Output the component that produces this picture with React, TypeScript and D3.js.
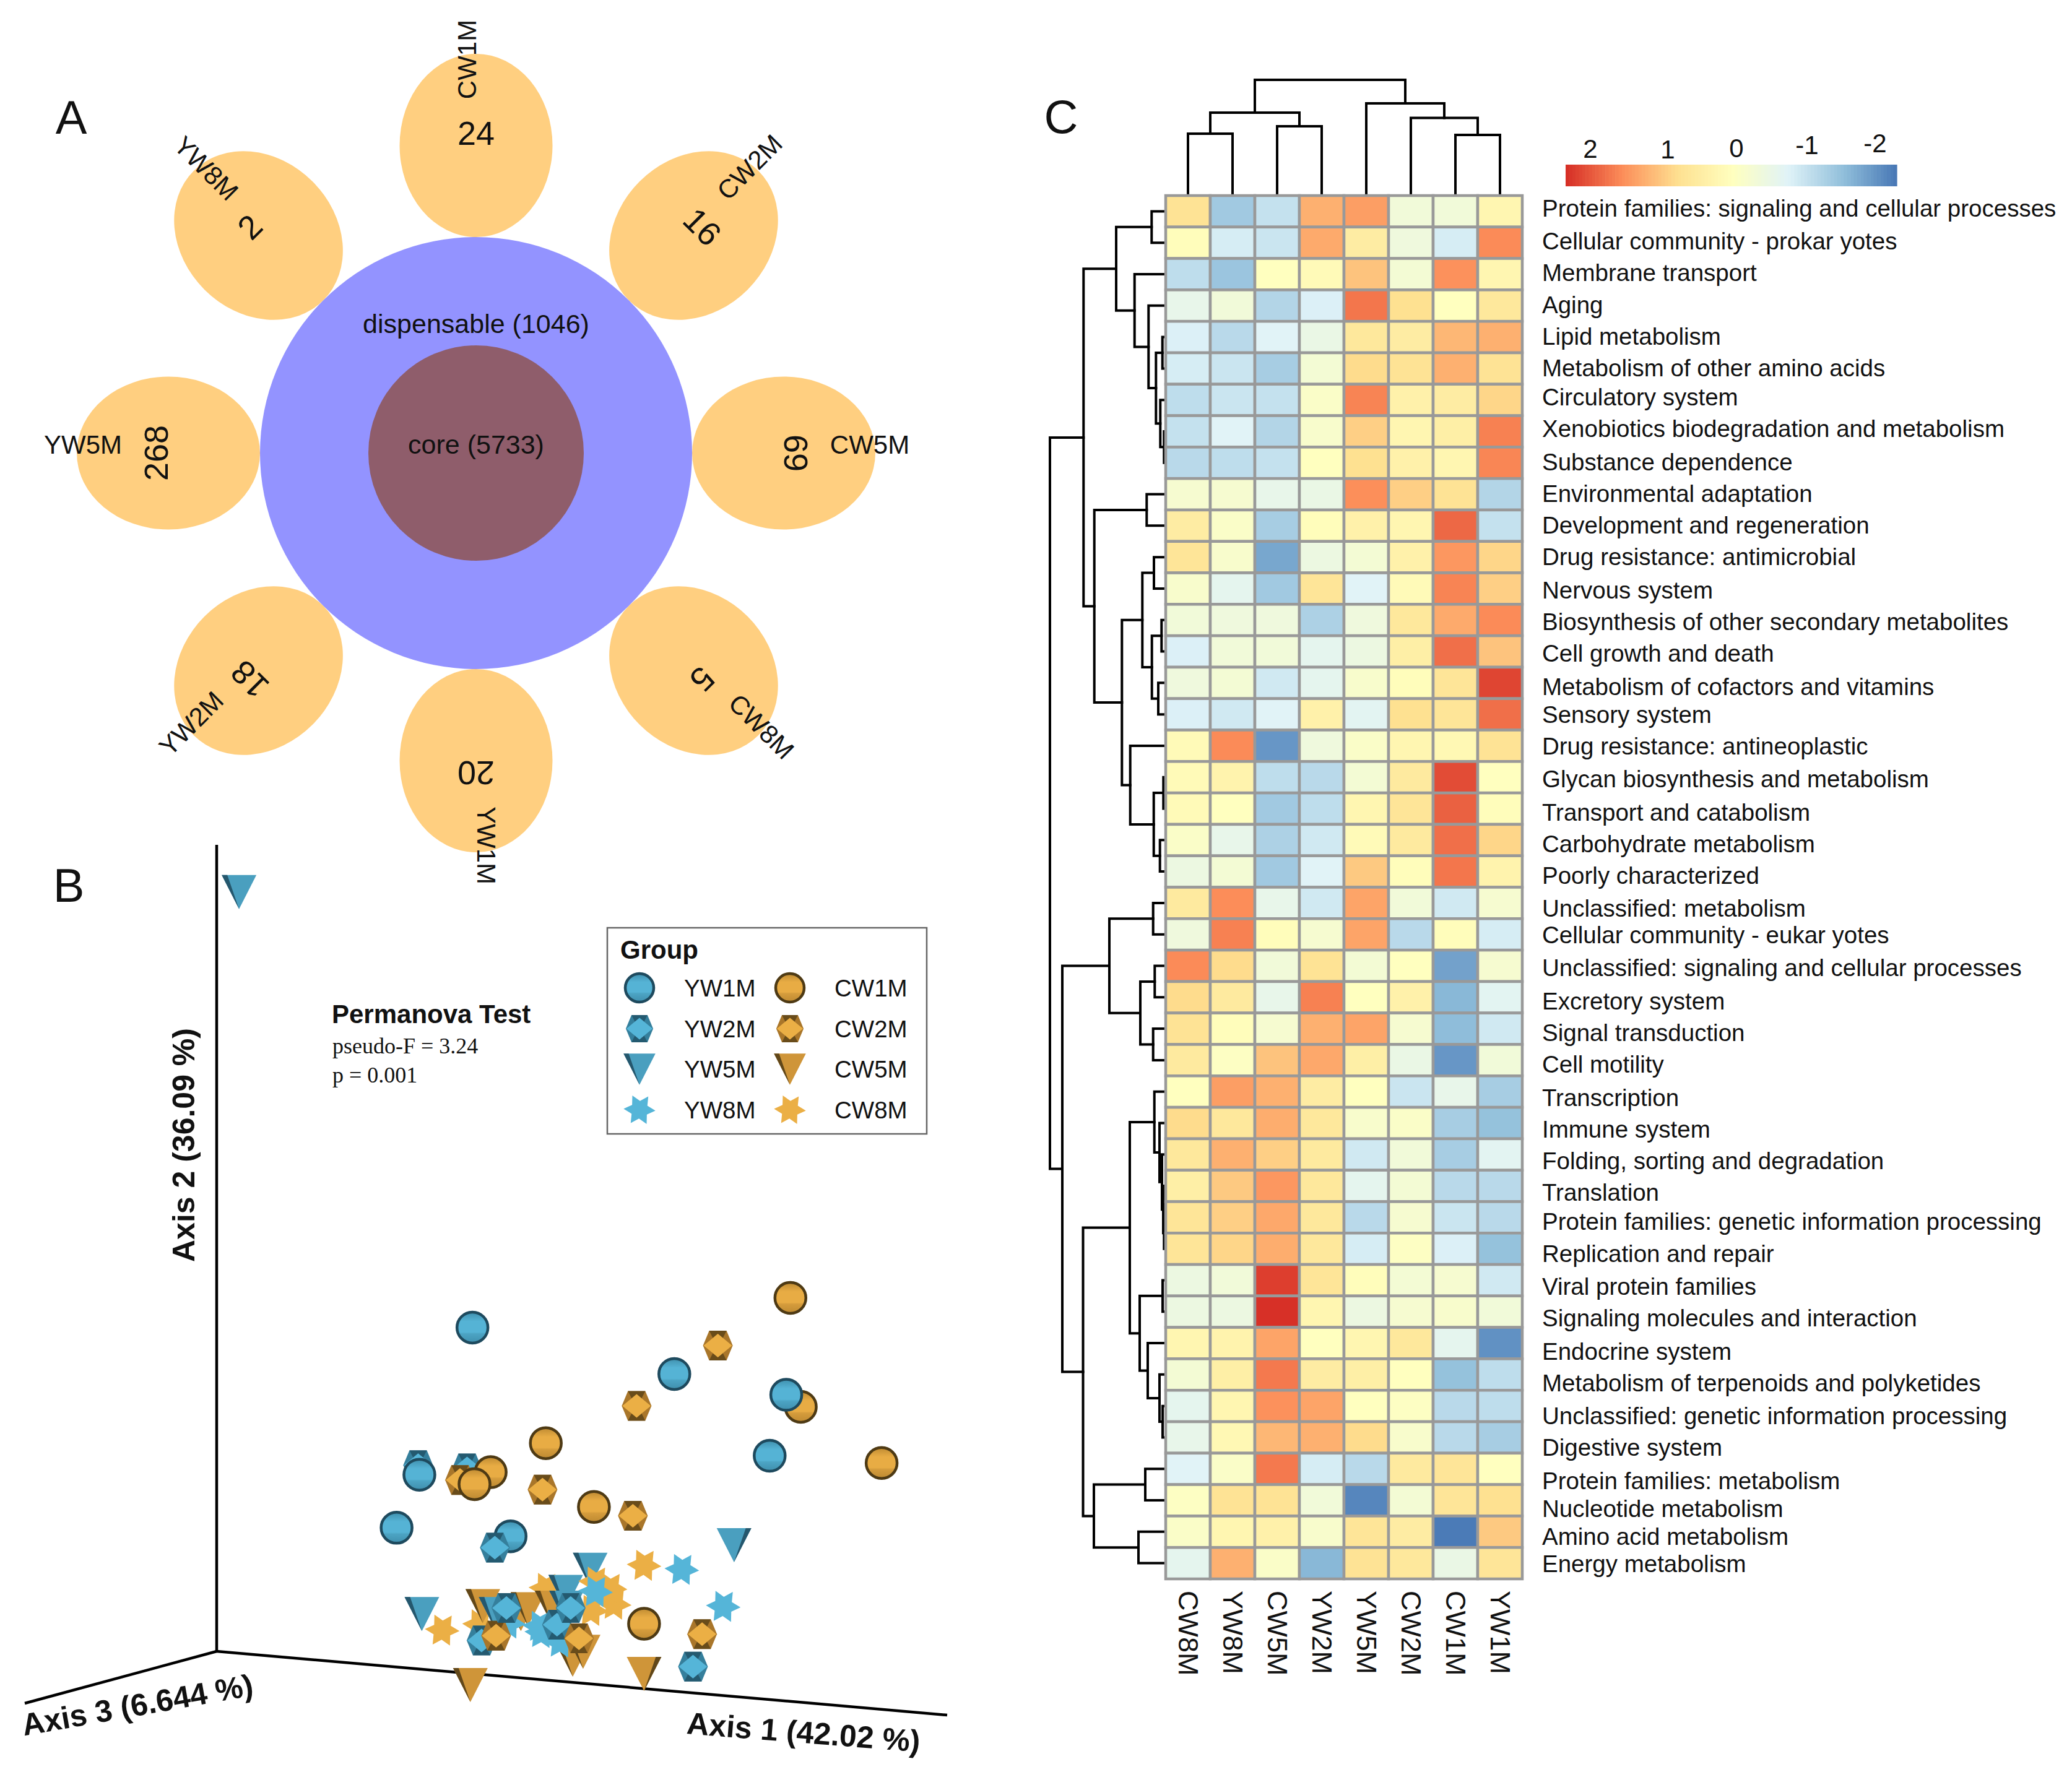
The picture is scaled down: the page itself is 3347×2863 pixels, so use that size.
import React from "react";
import * as d3 from "d3";

const FONT = "'Liberation Sans', Arial, sans-serif";

// ---------- Panel A data ----------
const petalNames = ["CW1M", "CW2M", "CW5M", "CW8M", "YW1M", "YW2M", "YW5M", "YW8M"];
const petalCounts = [24, 16, 69, 5, 20, 18, 268, 2];
const dispensableCount = 1046;
const coreCount = 5733;

// ---------- Panel B data (projected ordination coordinates) ----------
type P = [number, number];
const scatterCW8Mback: P[] = [[410, 1225], [570, 1110]];
const scatterCW5M: P[] = [[418, 1165], [510, 1190], [527, 1175], [585, 1170], [388, 1415], [635, 1335], [660, 1310], [807, 1380]];
const scatterYW8Mback: P[] = [[480, 1220], [605, 1280]];
const scatterYW5M: P[] = [[-170, -1096], [271, 1190], [1024, 972], [677, 1050], [618, 1120], [450, 1190], [620, 1170]];
const scatterCW8M: P[] = [[807, 1037], [320, 1242], [735, 1160], [680, 1180], [690, 1090], [725, 1110]];
const scatterYW8M: P[] = [[898, 1050], [998, 1167], [690, 1120], [555, 1230], [560, 1250]];
const scatterYW2Mback: P[] = [[262, 720], [380, 730], [415, 1275], [597, 1225]];
const scatterCW1M: P[] = [[1160, 190], [1185, 535], [1380, 713], [570, 650], [437, 742], [686, 852], [807, 1222]];
const scatterCW2M: P[] = [[985, 341], [789, 532], [363, 767], [562, 797], [780, 880], [947, 1255], [450, 1260], [650, 1268]];
const scatterCW1Mtop: P[] = [[398, 780]];
const scatterYW1M: P[] = [[393, 284], [880, 431], [1150, 497], [1110, 690], [265, 750], [210, 918], [485, 945]];
const scatterYW2M: P[] = [[447, 981], [475, 1172], [630, 1172], [925, 1358]];

const legendCol1 = ["YW1M", "YW2M", "YW5M", "YW8M"];
const legendCol2 = ["CW1M", "CW2M", "CW5M", "CW8M"];

// ---------- Panel C data ----------
const heatCols = ["CW8M", "YW8M", "CW5M", "YW2M", "YW5M", "CW2M", "CW1M", "YW1M"];
const heatRows = [
  "Protein families: signaling and cellular processes",
  "Cellular community - prokar yotes",
  "Membrane transport",
  "Aging",
  "Lipid metabolism",
  "Metabolism of other amino acids",
  "Circulatory system",
  "Xenobiotics biodegradation and metabolism",
  "Substance dependence",
  "Environmental adaptation",
  "Development and regeneration",
  "Drug resistance: antimicrobial",
  "Nervous system",
  "Biosynthesis of other secondary metabolites",
  "Cell growth and death",
  "Metabolism of cofactors and vitamins",
  "Sensory system",
  "Drug resistance: antineoplastic",
  "Glycan biosynthesis and metabolism",
  "Transport and catabolism",
  "Carbohydrate metabolism",
  "Poorly characterized",
  "Unclassified: metabolism",
  "Cellular community - eukar yotes",
  "Unclassified: signaling and cellular processes",
  "Excretory system",
  "Signal transduction",
  "Cell motility",
  "Transcription",
  "Immune system",
  "Folding, sorting and degradation",
  "Translation",
  "Protein families: genetic information processing",
  "Replication and repair",
  "Viral protein families",
  "Signaling molecules and interaction",
  "Endocrine system",
  "Metabolism of terpenoids and polyketides",
  "Unclassified: genetic information processing",
  "Digestive system",
  "Protein families: metabolism",
  "Nucleotide metabolism",
  "Amino acid metabolism",
  "Energy metabolism",
];
const heatValues: number[][] = [
  [0.6, -1.2, -0.9, 1.05, 1.2, -0.3, -0.3, 0.2],
  [0.05, -0.75, -0.85, 1.1, 0.4, -0.35, -0.75, 1.35],
  [-0.95, -1.25, 0.0, 0.1, 0.9, -0.25, 1.3, 0.2],
  [-0.5, -0.3, -1.05, -0.7, 1.5, 0.65, 0.0, 0.5],
  [-0.7, -1.0, -0.65, -0.45, 0.5, 0.4, 1.0, 1.05],
  [-0.75, -0.85, -1.15, -0.25, 0.7, 0.6, 1.05, 0.6],
  [-0.95, -0.85, -0.9, -0.1, 1.4, 0.3, 0.4, 0.75],
  [-0.9, -0.65, -1.05, -0.15, 0.8, 0.2, 0.35, 1.42],
  [-1, -0.95, -0.9, 0, 0.65, 0.3, 0.2, 1.38],
  [-0.2, -0.2, -0.5, -0.45, 1.32, 0.8, 0.6, -1.05],
  [0.4, -0.1, -1.15, 0.05, 0.3, 0.2, 1.6, -0.9],
  [0.55, -0.15, -1.55, -0.4, -0.25, 0.3, 1.25, 0.75],
  [-0.15, -0.55, -1.2, 0.55, -0.65, 0.1, 1.4, 0.8],
  [-0.3, -0.35, -0.35, -1.1, -0.35, 0.5, 1.1, 1.35],
  [-0.7, -0.3, -0.3, -0.55, -0.4, 0.35, 1.55, 0.9],
  [-0.35, -0.25, -0.8, -0.55, -0.15, 0.05, 0.55, 1.85],
  [-0.7, -0.8, -0.65, 0.3, -0.6, 0.65, 0.55, 1.55],
  [0.1, 1.35, -1.7, -0.35, -0.1, 0.2, 0.15, 0.6],
  [0.1, 0.25, -0.95, -1.0, -0.25, 0.45, 1.8, 0.0],
  [0.1, 0, -1.2, -0.95, 0.2, 0.55, 1.65, 0.05],
  [-0.1, -0.5, -1.1, -0.8, 0.1, 0.45, 1.55, 0.75],
  [-0.4, -0.25, -1.2, -0.65, 0.85, 0.05, 1.5, 0.25],
  [0.45, 1.33, -0.5, -0.8, 1.15, -0.3, -0.8, -0.2],
  [-0.35, 1.42, 0.05, -0.2, 1.15, -1, 0.05, -0.75],
  [1.35, 0.7, -0.3, 0.6, -0.25, 0, -1.6, -0.2],
  [0.7, 0.45, -0.5, 1.42, 0, 0.3, -1.4, -0.6],
  [0.6, 0.05, -0.2, 1.05, 1.15, -0.2, -1.35, -0.8],
  [0.45, -0.05, 0.9, 1.12, 0.35, -0.45, -1.7, -0.3],
  [0, 1.2, 1.05, 0.4, 0, -0.85, -0.5, -1.15],
  [0.7, 0.5, 1.08, 0.5, -0.15, -0.1, -1.15, -1.3],
  [0.5, 1.05, 0.8, 0.45, -0.8, -0.3, -1.15, -0.6],
  [0.35, 0.85, 1.25, 0.5, -0.55, -0.25, -1, -1],
  [0.55, 0.8, 1.12, 0.5, -1, -0.2, -0.85, -1],
  [0.55, 0.75, 1.08, 0.5, -0.75, -0.05, -0.7, -1.3],
  [-0.4, -0.3, 1.9, 0.55, 0.05, -0.25, -0.2, -0.8],
  [-0.4, -0.4, 2.0, 0.2, -0.4, -0.2, -0.15, -0.3],
  [0.2, 0.25, 1.15, 0, 0.2, 0.5, -0.55, -1.75],
  [-0.25, 0.35, 1.48, 0.4, 0.35, 0, -1.3, -0.95],
  [-0.55, 0.2, 1.3, 1.15, 0, -0.05, -1, -0.95],
  [-0.5, 0.15, 1, 1.05, 0.7, -0.15, -1, -1.15],
  [-0.65, -0.1, 1.48, -0.75, -1, 0.45, 0.55, 0],
  [-0.05, 0.6, 0.6, -0.3, -1.85, -0.25, 0.55, 0.65],
  [-0.1, 0.2, 0.3, -0.15, 0.55, 0.4, -1.95, 0.85],
  [-0.55, 1.05, -0.1, -1.4, 0.6, 0.5, -0.45, 0.55],
];
const colorTicks = [2, 1, 0, -1, -2];

// Dendrograms: [merge height, left child, right child]; a number is a leaf index
type Tree = number | [number, Tree, Tree];
const colTree: Tree = [186, [133, [99, 0, 1], [111, 2, 3]], [148, 4, [124.4, 5, [97, 6, 7]]]];
const rowTree: Tree = [186,
  [131.7,
    [79, [21.7, 0, 1], [49.3, 2, [26.7, 3, [14.7, [4.3, 4, 5], [7.7, 6, [1.7, 7, 8]]]]]],
    [114.3, [29.7, 9, 10],
      [69.7,
        [36.7, [18, 11, 12], [21.3, [5.7, 13, 14], [11, 15, 16]]],
        [56.3, 17, [18.3, [2.7, 18, 19], [8.3, 20, 21]]]]]],
  [166,
    [90, [19.3, 22, 23], [40, [16.7, 24, 25], [19.3, 26, 27]]],
    [132.5,
      [57,
        [17.3, 28, [9, 29, [5, 30, [3, 31, [1.7, 32, 33]]]]],
        [41, [4, 34, 35], [28, 36, [9, 37, [4, 38, 39]]]]],
      [115, [32, 40, 41], [43, 42, 43]]]]];

// ---------- Layout ----------
const W = 3347, H = 2863;
const heatX = d3.scaleBand<string>().domain(heatCols).range([1883, 2459]);
const heatY = d3.scaleBand<string>().domain(heatRows).range([316, 2551]);
const heatColor = d3.scaleLinear<string>()
  .domain([-2, -1.333, -0.667, 0, 0.667, 1.333, 2])
  .range(["#4575B4", "#91BFDB", "#E0F3F8", "#FFFFBF", "#FEE090", "#FC8D59", "#D73027"])
  .clamp(true);
const rowDendX = d3.scaleLinear().domain([0, 186]).range([1882, 1696]);
const colDendY = d3.scaleLinear().domain([0, 186]).range([315, 129]);
const colorBarX = d3.scaleLinear().domain([2, -2]).range([2529, 3064]);
const scatterX = d3.scaleLinear().domain([0, 1568]).range([500, 1550]);
const scatterY = d3.scaleLinear().domain([0, 1568]).range([2000, 2800]);
const line = d3.line();

// rendered centre of each row label (they sit slightly off the rows in the figure)
const rowLabelY = [158, 183, 207, 231, 255, 279, 301, 325, 350, 374, 398, 422, 447, 471, 495, 520, 541, 565, 590, 615, 639, 663, 688, 708, 733, 758, 782, 806, 831, 855, 879, 903, 925, 949, 974, 998, 1023, 1047, 1072, 1096, 1121, 1142, 1163, 1184].map((d) => d * 2.135 - 1);
const colorTickPos: P[] = [[2569, 240], [2694, 241], [2805, 239], [2919, 234], [3029, 231]];
const petalLabelPos: [number, number, number][] = [
  [754, 96, -90], [1211, 270, -45], [1405, 718, 0], [1230, 1174, 45],
  [785, 1366, 90], [309, 1169, -45], [134, 718, 0], [333, 272, 45],
];

function dendroPaths(tree: Tree, leafPos: (i: number) => number, heightPos: (h: number) => number, horizontal: boolean): string[] {
  const root = d3.hierarchy<Tree>(tree, (d) => (Array.isArray(d) ? [d[1], d[2]] : null));
  const paths: string[] = [];
  const pos = new Map<any, number>();
  root.eachAfter((n) => {
    if (!n.children) {
      pos.set(n, leafPos(n.data as number));
      return;
    }
    const h = heightPos((n.data as [number, Tree, Tree])[0]);
    const [a, b] = n.children;
    const pa = pos.get(a)!, pb = pos.get(b)!;
    const ha = a.children ? heightPos((a.data as [number, Tree, Tree])[0]) : heightPos(0);
    const hb = b.children ? heightPos((b.data as [number, Tree, Tree])[0]) : heightPos(0);
    const pts: [number, number][] = horizontal
      ? [[ha, pa], [h, pa], [h, pb], [hb, pb]]
      : [[pa, ha], [pa, h], [pb, h], [pb, hb]];
    paths.push(line(pts)!);
    pos.set(n, (pa + pb) / 2);
  });
  return paths;
}

const TEAL = { light: "#55B5D8", mid: "#4A9FBF", dark: "#357F9C", edge: "#1E4A5E", grad: "gTeal" };
const GOLD = { light: "#EBAF45", mid: "#CF9539", dark: "#A9762A", edge: "#4E3A14", grad: "gGold" };
type Pal = typeof TEAL;

function Sphere({ x, y, c, s = 1 }: { x: number; y: number; c: Pal; s?: number }) {
  return <circle cx={x} cy={y} r={25 * s} fill={`url(#${c.grad})`} stroke={c.edge} strokeWidth={4.5} />;
}
function Octa({ x, y, c, s = 1 }: { x: number; y: number; c: Pal; s?: number }) {
  const g = (pts: number[][]) => pts.map((p) => `${x + p[0] * s},${y + p[1] * s}`).join(" ");
  return (
    <g>
      <polygon points={g([[-14, -24], [14, -24], [24, 0], [14, 24], [-14, 24], [-24, 0]])} fill={c.dark} />
      <polygon points={g([[-14, -24], [14, -24], [8, -12], [0, -19], [-8, -12]])} fill={c.edge} opacity={0.7} />
      <polygon points={g([[-14, 24], [14, 24], [8, 12], [0, 19], [-8, 12]])} fill={c.edge} opacity={0.7} />
      <polygon points={g([[0, -19], [23, 0], [0, 19], [-23, 0]])} fill={c.light} />
    </g>
  );
}
function Cone({ x, y, c, s = 1, flip = false }: { x: number; y: number; c: Pal; s?: number; flip?: boolean }) {
  const g = (pts: number[][]) => pts.map((p) => `${x + p[0] * s * (flip ? -1 : 1)},${y + p[1] * s}`).join(" ");
  return (
    <g>
      <polygon points={g([[-28, -27], [28, -27], [0, 28]])} fill={c.mid} />
      <polygon points={g([[-28, -27], [-19, -27], [0, 28]])} fill={c.edge} opacity={0.85} />
    </g>
  );
}
function Star({ x, y, c, s = 1 }: { x: number; y: number; c: Pal; s?: number }) {
  const pts = d3.range(12).map((i) => {
    const a = (i * Math.PI) / 6 + 0.06;
    const r = (i % 2 ? 15.5 : 28) * s;
    return `${x + r * Math.cos(a)},${y + r * Math.sin(a)}`;
  });
  return <polygon points={pts.join(" ")} fill={c.light} />;
}

function Markers({ data, Comp, c }: { data: P[]; Comp: any; c: Pal }) {
  return (
    <g>
      {data.map((d, i) => (
        <Comp key={i} x={scatterX(d[0])} y={scatterY(d[1])} c={c} flip={Comp === Cone && d[0] > 800} />
      ))}
    </g>
  );
}

function Grad({ id, stops }: { id: string; stops: [number, string][] }) {
  return (
    <linearGradient id={id} x1="0" y1="0" x2="0" y2="1">
      {stops.map((s, i) => <stop key={i} offset={s[0]} stopColor={s[1]} />)}
    </linearGradient>
  );
}

export default function App() {
  const cx = 769, cy = 732;
  const rowIdx = (i: number) => (heatY(heatRows[i]) as number) + heatY.bandwidth() / 2;
  const colIdx = (i: number) => (heatX(heatCols[i]) as number) + heatX.bandwidth() / 2;
  const rowPaths = dendroPaths(rowTree, rowIdx, rowDendX, true);
  const colPaths = dendroPaths(colTree, colIdx, colDendY, false);
  const barSteps = d3.range(100).map((i) => 2 - (i * 4) / 100);
  const legendYs = [1596, 1662, 1727, 1793];
  const LegendShapes = [Sphere, Octa, Cone, Star];

  return (
    <svg width={W} height={H} viewBox={`0 0 ${W} ${H}`} style={{ position: "absolute", left: 0, top: 0, display: "block", background: "#fff" }} fontFamily={FONT} fill="#111">
      <defs>
        <Grad id="gTeal" stops={[[0, "#3F8FAD"], [0.3, "#55B3D5"], [0.65, "#55B3D5"], [0.7, "#4CA4C4"], [1, "#3F8FAD"]]} />
        <Grad id="gGold" stops={[[0, "#BE8A32"], [0.3, "#E8AC44"], [0.65, "#E8AC44"], [0.7, "#D59C3C"], [1, "#BE8A32"]]} />
      </defs>

      {/* Panel A */}
      <text x={115} y={216} fontSize={76} textAnchor="middle">A</text>
      {petalNames.map((n, i) => (
        <ellipse key={n} cx={cx} cy={cy - 497} rx={123.5} ry={148} fill="#FFCF80" transform={`rotate(${i * 45} ${cx} ${cy})`} />
      ))}
      <circle cx={cx} cy={cy} r={349} fill="#9393FF" />
      <circle cx={cx} cy={cy} r={174} fill="#8F5D6B" />
      {petalCounts.map((n, i) => (
        <text key={i} x={cx} y={cy - 517} fontSize={54} textAnchor="middle" dominantBaseline="central" transform={`rotate(${i * 45} ${cx} ${cy})`}>{n}</text>
      ))}
      {petalNames.map((n, i) => (
        <text key={n} x={petalLabelPos[i][0]} y={petalLabelPos[i][1]} fontSize={42} textAnchor="middle" dominantBaseline="central" transform={`rotate(${petalLabelPos[i][2]} ${petalLabelPos[i][0]} ${petalLabelPos[i][1]})`}>{n}</text>
      ))}
      <text x={769} y={523} fontSize={43} textAnchor="middle" dominantBaseline="central">{`dispensable (${dispensableCount})`}</text>
      <text x={769} y={718} fontSize={43} textAnchor="middle" dominantBaseline="central">{`core (${coreCount})`}</text>

      {/* Panel B */}
      <text x={111} y={1457} fontSize={76} textAnchor="middle">B</text>
      <g stroke="#000" strokeWidth={4.5} fill="none">
        <path d={line([[350, 1365], [350, 2668]])!} />
        <path d={line([[350, 2668], [1530, 2771]])!} />
        <path d={line([[350, 2668], [40, 2752]])!} />
      </g>
      <Markers data={scatterCW8Mback} Comp={Star} c={GOLD} />
      <Markers data={scatterCW5M} Comp={Cone} c={GOLD} />
      <Markers data={scatterYW8Mback} Comp={Star} c={TEAL} />
      <Markers data={scatterYW5M} Comp={Cone} c={TEAL} />
      <Markers data={scatterCW8M} Comp={Star} c={GOLD} />
      <Markers data={scatterYW8M} Comp={Star} c={TEAL} />
      <Markers data={scatterYW2Mback} Comp={Octa} c={TEAL} />
      <Markers data={scatterCW1M} Comp={Sphere} c={GOLD} />
      <Markers data={scatterCW2M} Comp={Octa} c={GOLD} />
      <Markers data={scatterCW1Mtop} Comp={Sphere} c={GOLD} />
      <Markers data={scatterYW1M} Comp={Sphere} c={TEAL} />
      <Markers data={scatterYW2M} Comp={Octa} c={TEAL} />

      <text x={297} y={1850} fontSize={50} fontWeight="bold" textAnchor="middle" dominantBaseline="central" fill="#111" transform="rotate(-90 297 1850)">Axis 2 (36.09 %)</text>
      <text x={222} y={2755} fontSize={50} fontWeight="bold" textAnchor="middle" dominantBaseline="central" transform="rotate(-10 222 2755)">Axis 3 (6.644 %)</text>
      <text x={1298} y={2799} fontSize={50} fontWeight="bold" textAnchor="middle" dominantBaseline="central" transform="rotate(4.5 1298 2799)">Axis 1 (42.02 %)</text>

      <text x={536} y={1653} fontSize={42} fontWeight="bold">Permanova Test</text>
      <text x={537} y={1702} fontSize={36} fontFamily="'Liberation Serif', serif">pseudo-F = 3.24</text>
      <text x={537} y={1749} fontSize={36} fontFamily="'Liberation Serif', serif">p = 0.001</text>

      <rect x={981} y={1499} width={516} height={333} fill="#fff" stroke="#666" strokeWidth={2.5} />
      <text x={1002} y={1549} fontSize={42} fontWeight="bold">Group</text>
      {legendCol1.map((n, i) => {
        const C = LegendShapes[i];
        return (
          <g key={n}>
            <C x={1033} y={legendYs[i]} c={TEAL} s={0.92} />
            <text x={1105} y={legendYs[i]} fontSize={38.5} dominantBaseline="central">{n}</text>
          </g>
        );
      })}
      {legendCol2.map((n, i) => {
        const C = LegendShapes[i];
        return (
          <g key={n}>
            <C x={1276} y={legendYs[i]} c={GOLD} s={0.92} />
            <text x={1348} y={legendYs[i]} fontSize={38.5} dominantBaseline="central">{n}</text>
          </g>
        );
      })}

      {/* Panel C */}
      <text x={1714} y={215} fontSize={76} textAnchor="middle">C</text>
      <g fill="none" stroke="#000" strokeWidth={4} strokeLinecap="square">
        {rowPaths.map((d, i) => <path key={i} d={d} />)}
        {colPaths.map((d, i) => <path key={i} d={d} />)}
      </g>
      {heatRows.map((r, i) => heatCols.map((c, j) => (
        <rect key={r + c} x={heatX(c)} y={heatY(r)} width={heatX.bandwidth()} height={heatY.bandwidth()} fill={heatColor(heatValues[i][j])} stroke="#999" strokeWidth={4.5} />
      )))}
      {heatRows.map((r, i) => (
        <text key={r} x={2491} y={rowLabelY[i]} fontSize={38.5} dominantBaseline="central">{r}</text>
      ))}
      {heatCols.map((c) => {
        const x = (heatX(c) as number) + heatX.bandwidth() / 2;
        return <text key={c} x={x} y={2570} fontSize={45} dominantBaseline="central" transform={`rotate(90 ${x} 2570)`}>{c}</text>;
      })}
      {barSteps.map((v) => (
        <rect key={v} x={colorBarX(v)} y={266} width={(3064 - 2529) / 100 + 0.6} height={35} fill={heatColor(v)} />
      ))}
      {colorTicks.map((t, i) => (
        <text key={t} x={colorTickPos[i][0]} y={colorTickPos[i][1]} fontSize={42} textAnchor="middle" dominantBaseline="central">{t}</text>
      ))}
    </svg>
  );
}
